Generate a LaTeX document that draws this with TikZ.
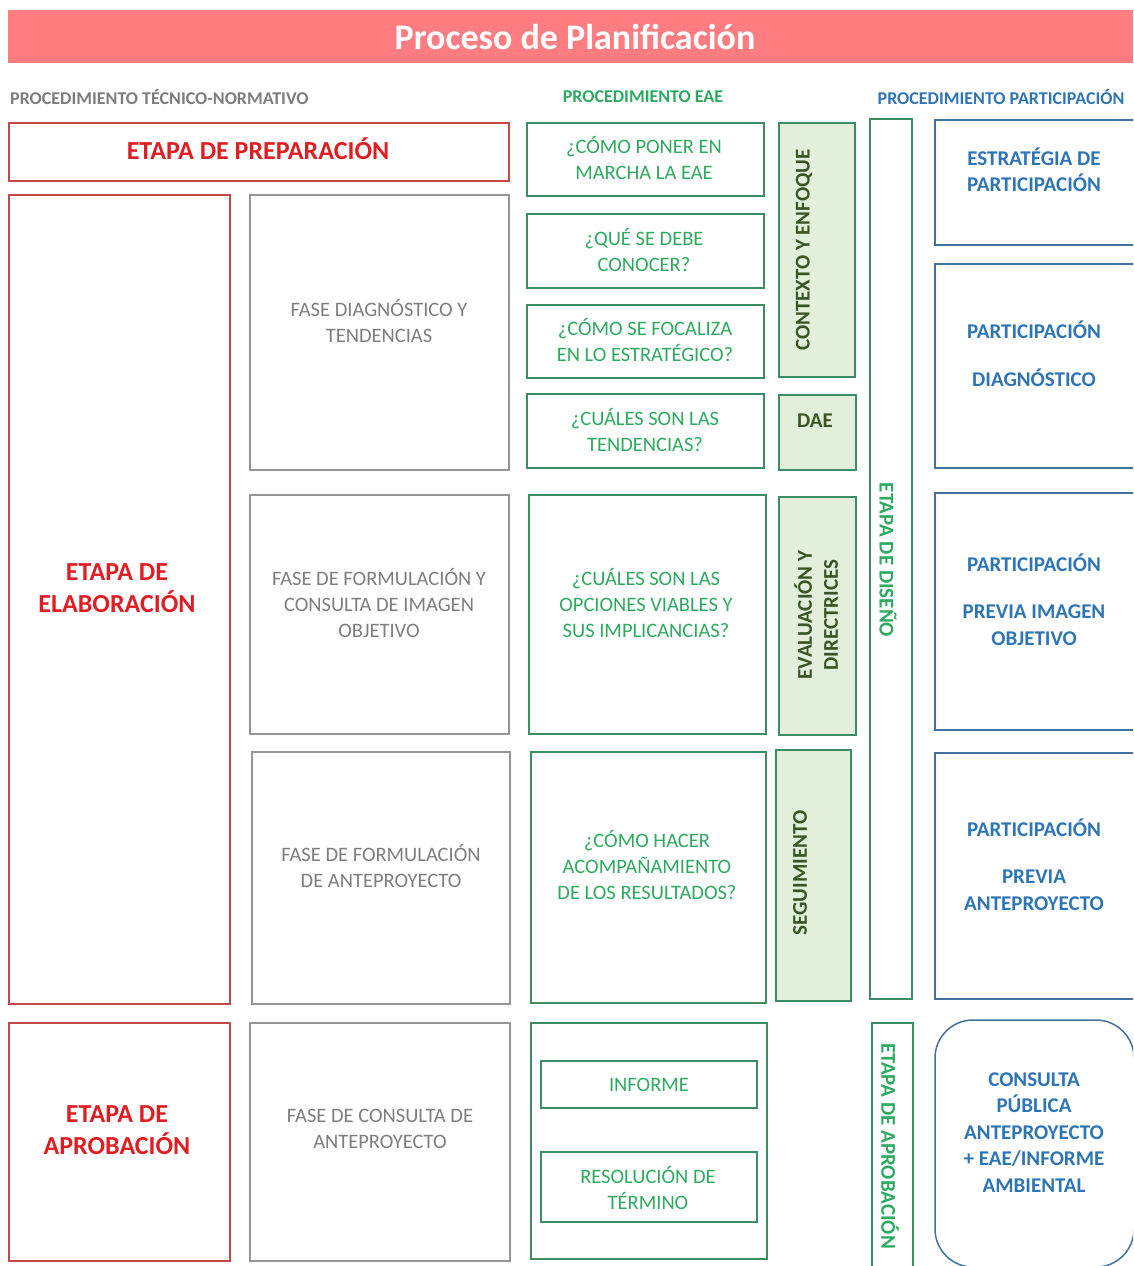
\documentclass[tikz,border=0pt]{standalone}
\usepackage{fontspec}
\setmainfont{Carlito}
\definecolor{titlefill}{RGB}{255,124,128}
\definecolor{redline}{RGB}{196,72,72}
\definecolor{redword}{RGB}{222,30,35}
\definecolor{grayline}{RGB}{150,150,150}
\definecolor{grayword}{RGB}{125,125,125}
\definecolor{greenline}{RGB}{60,140,100}
\definecolor{greenword}{RGB}{45,170,95}
\definecolor{greenfill}{RGB}{226,239,218}
\definecolor{darkgreen}{RGB}{55,86,35}
\definecolor{blueline}{RGB}{65,113,156}
\definecolor{blueword}{RGB}{46,117,182}
\tikzset{
	redstyle/.style={rectangle,draw=redline,line width=1.5pt,inner sep=0},
	graystyle/.style={rectangle,draw=grayline,line width=1.5pt,inner sep=0},
	greenstyle/.style={rectangle,draw=greenline,line width=1.5pt,inner sep=0},
	fillstyle/.style={rectangle,draw=greenline,fill=greenfill,line width=1.5pt,inner sep=0},
	bluestyle/.style={rectangle,draw=blueline,line width=1.5pt,inner sep=0},
	redlabel/.style={text=redword,font=\bfseries\fontsize{26}{32}\selectfont,align=center},
	graylabel/.style={text=grayword,font=\fontsize{20.5}{26}\selectfont,align=center},
	greenlabel/.style={text=greenword,font=\fontsize{20.5}{26}\selectfont,align=center},
	filllabel/.style={text=darkgreen,font=\bfseries\fontsize{21}{26}\selectfont,align=center},
	bluelabel/.style={text=blueword,font=\bfseries\fontsize{21}{26.5}\selectfont,align=center},
	headlabel/.style={font=\bfseries\fontsize{18}{20}\selectfont}
}
\begin{document}
\begin{tikzpicture}[x=1pt,y=-1pt]
	\useasboundingbox (0,0) rectangle (1133,1266);
	\clip (0,0) rectangle (1133,1266);
	% title and headers
	\node[rectangle,fill=titlefill,minimum width=1125,minimum height=53,inner sep=0] (title) at (570.5,36.5) {};
	\node[text=white,font=\bfseries\fontsize{36}{40}\selectfont] (titletxt) at (575,37) {Proceso de Planificación};
	\node[headlabel,text=grayword,anchor=west,inner sep=0] (headtec) at (10,97) {PROCEDIMIENTO TÉCNICO-NORMATIVO};
	\node[headlabel,text=greenword] (headeae) at (643,97) {PROCEDIMIENTO EAE};
	\node[headlabel,text=blueword] (headpart) at (1001,97) {PROCEDIMIENTO PARTICIPACIÓN};
	% procedimiento tecnico-normativo
	\node[redstyle,minimum width=500,minimum height=58] (prep) at (259,152) {};
	\node[redlabel] (preptxt) at (258,149) {ETAPA DE PREPARACIÓN};
	\node[redstyle,minimum width=221,minimum height=809] (elab) at (119.5,599.5) {};
	\node[redlabel] (elabtxt) at (117,588) {ETAPA DE\\ELABORACIÓN};
	\node[redstyle,minimum width=221,minimum height=238] (aprob) at (119.5,1142) {};
	\node[redlabel] (aprobtxt) at (117,1130) {ETAPA DE\\APROBACIÓN};
	\node[graystyle,minimum width=259,minimum height=275] (diag) at (379.5,332.5) {};
	\node[graylabel] (diagtxt) at (379,321) {FASE DIAGNÓSTICO Y\\TENDENCIAS};
	\node[graystyle,minimum width=259,minimum height=239] (imagen) at (379.5,614.5) {};
	\node[graylabel] (imagentxt) at (379,603) {FASE DE FORMULACIÓN Y\\CONSULTA DE IMAGEN\\OBJETIVO};
	\node[graystyle,minimum width=258,minimum height=252] (ante) at (381,878) {};
	\node[graylabel] (antetxt) at (381,866) {FASE DE FORMULACIÓN\\DE ANTEPROYECTO};
	\node[graystyle,minimum width=260,minimum height=238] (consulta) at (380,1142) {};
	\node[graylabel] (consultatxt) at (380,1129) {FASE DE CONSULTA DE\\ANTEPROYECTO};
	% procedimiento EAE
	\node[greenstyle,minimum width=237,minimum height=73] (q1) at (645.5,159.5) {};
	\node[greenlabel] (q1txt) at (644,158) {¿CÓMO PONER EN\\MARCHA LA EAE};
	\node[greenstyle,minimum width=237,minimum height=74] (q2) at (645.5,251) {};
	\node[greenlabel] (q2txt) at (644,250) {¿QUÉ SE DEBE\\CONOCER?};
	\node[greenstyle,minimum width=237,minimum height=73] (q3) at (645.5,341.5) {};
	\node[greenlabel] (q3txt) at (645,340) {¿CÓMO SE FOCALIZA\\EN LO ESTRATÉGICO?};
	\node[greenstyle,minimum width=237,minimum height=74] (q4) at (645.5,431) {};
	\node[greenlabel] (q4txt) at (645,430) {¿CUÁLES SON LAS\\TENDENCIAS?};
	\node[greenstyle,minimum width=237,minimum height=239] (q5) at (647.5,614.5) {};
	\node[greenlabel] (q5txt) at (646,603) {¿CUÁLES SON LAS\\OPCIONES VIABLES Y\\SUS IMPLICANCIAS?};
	\node[greenstyle,minimum width=235,minimum height=251] (q6) at (648.5,877.5) {};
	\node[greenlabel] (q6txt) at (647,865) {¿CÓMO HACER\\ACOMPAÑAMIENTO\\DE LOS RESULTADOS?};
	\node[greenstyle,minimum width=236,minimum height=236] (eaebot) at (649,1141) {};
	\node[greenstyle,minimum width=216,minimum height=47] (informe) at (649,1084.5) {};
	\node[greenlabel] (informetxt) at (649,1085) {INFORME};
	\node[greenstyle,minimum width=216,minimum height=70] (resol) at (649,1187) {};
	\node[greenlabel] (resoltxt) at (648,1188) {RESOLUCIÓN DE\\TÉRMINO};
	\node[fillstyle,minimum width=76,minimum height=254] (ctx) at (817,250) {};
	\node[filllabel,rotate=90] (ctxtxt) at (804,250) {CONTEXTO Y ENFOQUE};
	\node[fillstyle,minimum width=77,minimum height=75] (dae) at (817.5,432.5) {};
	\node[filllabel] (daetxt) at (815,421) {DAE};
	\node[fillstyle,minimum width=77,minimum height=238] (eval) at (817.5,616) {};
	\node[filllabel,rotate=90] (evaltxt) at (816,615) {EVALUACIÓN Y\\DIRECTRICES};
	\node[fillstyle,minimum width=75,minimum height=251] (seg) at (813.5,875.5) {};
	\node[filllabel,rotate=90] (segtxt) at (800,873) {SEGUIMIENTO};
	% etapas verticales
	\node[greenstyle,minimum width=42,minimum height=880] (diseno) at (891,559) {};
	\node[filllabel,text=greenword,rotate=-90] (disenotxt) at (888,560) {ETAPA DE DISEÑO};
	\node[greenstyle,minimum width=41,minimum height=260] (aprobv) at (892.5,1153) {};
	\node[filllabel,text=greenword,rotate=-90,anchor=west,inner sep=0] (aprobvtxt) at (890,1043) {ETAPA DE APROBACIÓN};
	% procedimiento participacion
	\node[bluestyle,minimum width=205,minimum height=125] (p1) at (1037.5,182.5) {};
	\node[bluelabel] (p1txt) at (1034,170) {ESTRATÉGIA DE\\PARTICIPACIÓN};
	\node[bluestyle,minimum width=205,minimum height=204] (p2) at (1037.5,366) {};
	\node[bluelabel] (p2txt) at (1034,353.5) {PARTICIPACIÓN\\[21pt]DIAGNÓSTICO};
	\node[bluestyle,minimum width=205,minimum height=237] (p3) at (1037.5,611.5) {};
	\node[bluelabel] (p3txt) at (1034,599.5) {PARTICIPACIÓN\\[21pt]PREVIA IMAGEN\\OBJETIVO};
	\node[bluestyle,minimum width=205,minimum height=246] (p4) at (1037.5,876) {};
	\node[bluelabel] (p4txt) at (1034,864.5) {PARTICIPACIÓN\\[21pt]PREVIA\\ANTEPROYECTO};
	\node[bluestyle,rounded corners=38,minimum width=199,minimum height=247] (p5) at (1034.5,1143.5) {};
	\node[bluelabel] (p5txt) at (1034,1132.5) {CONSULTA\\PÚBLICA\\ANTEPROYECTO\\+ EAE/INFORME\\AMBIENTAL};
\end{tikzpicture}
\end{document}
